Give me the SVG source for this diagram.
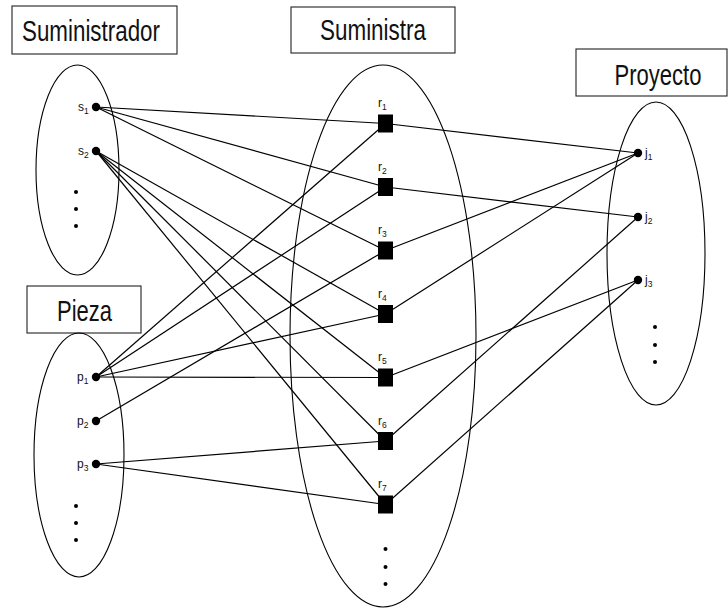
<svg xmlns="http://www.w3.org/2000/svg" width="728" height="612" viewBox="0 0 728 612">
  <style>
    .set { fill: none; stroke: #000; stroke-width: 1.1; }
    .title-box { fill: #fff; stroke: #222; stroke-width: 1.1; }
    .title { font-family: "Liberation Sans", Arial, sans-serif; font-size: 29px; fill: #111; text-anchor: middle; }
    .lbl { font-family: "Liberation Sans", Arial, sans-serif; font-size: 12px; fill: #111; }
    .sub { font-size: 8.5px; }
    .edges line { stroke: #000; stroke-width: 1.2; }
    .ent { fill: #000; }
    .rel { fill: #000; }
    .more { fill: #000; }
  </style>

  <!-- set titles -->
  <g id="title-suministrador">
    <rect class="title-box" x="12" y="6" width="165" height="48"/>
    <text class="title" x="91" y="41" textLength="138" lengthAdjust="spacingAndGlyphs">Suministrador</text>
  </g>
  <g id="title-suministra">
    <rect class="title-box" x="291" y="7" width="164" height="46"/>
    <text class="title" x="373" y="40" textLength="106" lengthAdjust="spacingAndGlyphs">Suministra</text>
  </g>
  <g id="title-proyecto">
    <rect class="title-box" x="576" y="49" width="151" height="47"/>
    <text class="title" x="658" y="85" textLength="87" lengthAdjust="spacingAndGlyphs">Proyecto</text>
  </g>
  <g id="title-pieza">
    <rect class="title-box" x="27" y="286" width="114" height="47"/>
    <text class="title" x="84.5" y="321" textLength="55" lengthAdjust="spacingAndGlyphs">Pieza</text>
  </g>

  <!-- set outlines -->
  <g id="set-suministrador"><ellipse class="set" cx="77.5" cy="170" rx="41.5" ry="105"/></g>
  <g id="set-pieza"><ellipse class="set" cx="79" cy="455" rx="45" ry="122"/></g>
  <g id="set-suministra"><ellipse class="set" cx="383" cy="336" rx="93" ry="271"/></g>
  <g id="set-proyecto"><ellipse class="set" cx="656" cy="253.5" rx="49" ry="151.5"/></g>

  <!-- relationship links -->
  <g id="connectors" class="edges">
    <!-- suppliers to relationship instances -->
    <line x1="96" y1="107" x2="385.5" y2="123.5"/>
    <line x1="96" y1="107" x2="385.5" y2="187"/>
    <line x1="96" y1="107" x2="385.5" y2="250.5"/>
    <line x1="96" y1="151" x2="385.5" y2="314"/>
    <line x1="96" y1="151" x2="385.5" y2="377.5"/>
    <line x1="96" y1="151" x2="385.5" y2="441"/>
    <line x1="96" y1="151" x2="385.5" y2="504.5"/>
    <!-- parts to relationship instances -->
    <line x1="96" y1="377" x2="385.5" y2="123.5"/>
    <line x1="96" y1="377" x2="385.5" y2="187"/>
    <line x1="96" y1="377" x2="385.5" y2="314"/>
    <line x1="96" y1="377" x2="385.5" y2="377.5"/>
    <line x1="96" y1="421" x2="385.5" y2="250.5"/>
    <line x1="96" y1="464" x2="385.5" y2="441"/>
    <line x1="96" y1="464" x2="385.5" y2="504.5"/>
    <!-- relationship instances to projects -->
    <line x1="385.5" y1="123.5" x2="638" y2="153"/>
    <line x1="385.5" y1="187" x2="638" y2="217"/>
    <line x1="385.5" y1="250.5" x2="638" y2="153"/>
    <line x1="385.5" y1="314" x2="638" y2="153"/>
    <line x1="385.5" y1="377.5" x2="638" y2="280"/>
    <line x1="385.5" y1="441" x2="638" y2="217"/>
    <line x1="385.5" y1="504.5" x2="638" y2="280"/>
  </g>

  <!-- suppliers -->
  <g id="s1"><circle class="ent" cx="96" cy="107" r="4.2"/><text class="lbl" x="78" y="111">s<tspan class="sub" dy="3">1</tspan></text></g>
  <g id="s2"><circle class="ent" cx="96" cy="151" r="4.2"/><text class="lbl" x="78" y="155">s<tspan class="sub" dy="3">2</tspan></text></g>
  <g id="s-more">
    <circle class="more" cx="76" cy="192" r="2"/>
    <circle class="more" cx="76" cy="209" r="2"/>
    <circle class="more" cx="76" cy="226" r="2"/>
  </g>

  <!-- parts -->
  <g id="p1"><circle class="ent" cx="96" cy="377" r="4.2"/><text class="lbl" x="77" y="381">p<tspan class="sub" dy="3">1</tspan></text></g>
  <g id="p2"><circle class="ent" cx="96" cy="421" r="4.2"/><text class="lbl" x="77" y="425">p<tspan class="sub" dy="3">2</tspan></text></g>
  <g id="p3"><circle class="ent" cx="96" cy="464" r="4.2"/><text class="lbl" x="77" y="468">p<tspan class="sub" dy="3">3</tspan></text></g>
  <g id="p-more">
    <circle class="more" cx="76" cy="506" r="2"/>
    <circle class="more" cx="76" cy="523" r="2"/>
    <circle class="more" cx="76" cy="540" r="2"/>
  </g>

  <!-- relationship instances -->
  <g id="r1"><rect class="rel" x="378" y="114.5" width="15" height="18"/><text class="lbl" x="378" y="107">r<tspan class="sub" dy="3">1</tspan></text></g>
  <g id="r2"><rect class="rel" x="378" y="178" width="15" height="18"/><text class="lbl" x="378" y="170.5">r<tspan class="sub" dy="3">2</tspan></text></g>
  <g id="r3"><rect class="rel" x="378" y="241.5" width="15" height="18"/><text class="lbl" x="378" y="234">r<tspan class="sub" dy="3">3</tspan></text></g>
  <g id="r4"><rect class="rel" x="378" y="305" width="15" height="18"/><text class="lbl" x="378" y="297.5">r<tspan class="sub" dy="3">4</tspan></text></g>
  <g id="r5"><rect class="rel" x="378" y="368.5" width="15" height="18"/><text class="lbl" x="378" y="361">r<tspan class="sub" dy="3">5</tspan></text></g>
  <g id="r6"><rect class="rel" x="378" y="432" width="15" height="18"/><text class="lbl" x="378" y="424.5">r<tspan class="sub" dy="3">6</tspan></text></g>
  <g id="r7"><rect class="rel" x="378" y="495.5" width="15" height="18"/><text class="lbl" x="378" y="488">r<tspan class="sub" dy="3">7</tspan></text></g>
  <g id="r-more">
    <circle class="more" cx="385.5" cy="549" r="2"/>
    <circle class="more" cx="385.5" cy="567" r="2"/>
    <circle class="more" cx="385.5" cy="584" r="2"/>
  </g>

  <!-- projects -->
  <g id="j1"><circle class="ent" cx="638" cy="153" r="4.2"/><text class="lbl" x="645" y="157">j<tspan class="sub" dy="3">1</tspan></text></g>
  <g id="j2"><circle class="ent" cx="638" cy="217" r="4.2"/><text class="lbl" x="645" y="221">j<tspan class="sub" dy="3">2</tspan></text></g>
  <g id="j3"><circle class="ent" cx="638" cy="280" r="4.2"/><text class="lbl" x="645" y="284">j<tspan class="sub" dy="3">3</tspan></text></g>
  <g id="j-more">
    <circle class="more" cx="655" cy="327" r="2"/>
    <circle class="more" cx="655" cy="345" r="2"/>
    <circle class="more" cx="655" cy="362" r="2"/>
  </g>
</svg>
